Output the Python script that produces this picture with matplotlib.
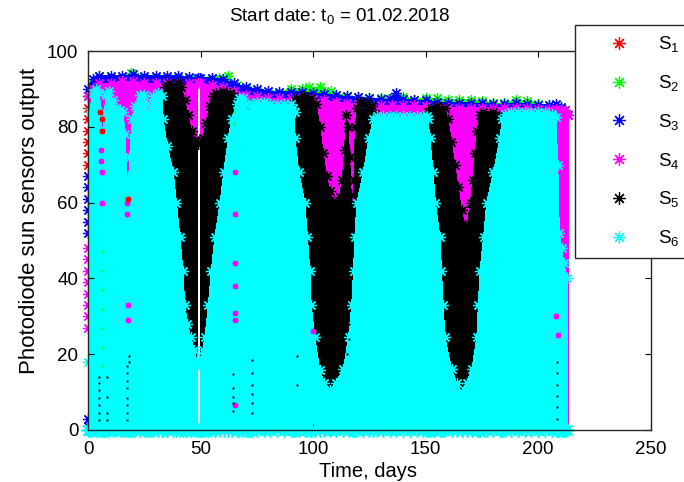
import numpy as np
import matplotlib
matplotlib.use("Agg")
import matplotlib.pyplot as plt
from matplotlib.lines import Line2D

plt.rcParams['font.family'] = ['Liberation Sans', 'DejaVu Sans']
plt.rcParams['mathtext.fontset'] = 'custom'
plt.rcParams['mathtext.rm'] = 'Liberation Sans'
plt.rcParams['mathtext.it'] = 'Liberation Sans:italic'

nan = np.nan

# ---------------- data (envelopes) ----------------
series_names = ['S1', 'S2', 'S3', 'S4', 'S5', 'S6']
series_labels = [r'$\mathrm{S}_{1}$', r'$\mathrm{S}_{2}$', r'$\mathrm{S}_{3}$',
                 r'$\mathrm{S}_{4}$', r'$\mathrm{S}_{5}$', r'$\mathrm{S}_{6}$']
series_colors = ['#ff0000', '#00ff00', '#0000ff', '#ff00ff', '#000000', '#00ffff']

# S2 (green) upper envelope
s2_day = [0, 2, 5, 10, 15, 19, 22, 25, 30, 35, 40, 45, 48.8, 49.3, 49.8, 55, 58, 62, 66, 70, 75, 80, 85, 90,
          95, 98, 103, 108, 115, 120, 125, 130, 135, 140, 145, 150, 155, 160, 165, 170, 175, 180, 185, 190,
          195, 200, 205, 210, 213]
s2_top = [88, 91.5, 93.5, 93, 93, 94.3, 93, 93, 93, 93, 93, 92.5, 92.5, nan, 92.5, 92.5, 93, 93.3, 91, 90,
          89.5, 89, 89, 90, 90, 90.5, 90.5, 89.5, 88, 87.8, 87.6, 87.5, 87.5, 87.8, 87.2, 87.5, 87.5, 87,
          87.2, 87, 86.8, 86.2, 86.2, 87, 86.8, 86, 85.8, 85, 83.5]

# S3 (blue) upper envelope
s3_day = [0, 2, 5, 10, 15, 20, 25, 30, 35, 40, 45, 48.8, 49.3, 49.8, 55, 60, 65, 70, 75, 80, 85, 90,
          95, 100, 105, 110, 115, 120, 125, 130, 134, 137, 140, 145, 150, 155, 160, 165, 170, 175, 180,
          185, 190, 195, 200, 205, 208, 210, 212, 213.5]
s3_top = [90, 92.5, 93.5, 93.5, 93.5, 93.8, 93.5, 93.5, 93.5, 93.5, 93.2, 93, nan, 93, 93, 92.5, 91.5, 90.5,
          90, 89.5, 89.3, 89.3, 89.3, 89, 88.7, 88.3, 88, 87.8, 87.5, 87.3, 87.3, 89, 87.3, 87, 87, 86.5,
          86.3, 86.3, 86.3, 86.2, 86, 86, 86.3, 86, 85.8, 85.8, 86, 85.3, 84.5, 83]

# S4 (magenta) upper envelope
s4_day = [0, 2, 5, 10, 15, 20, 25, 30, 35, 40, 45, 48.8, 49.3, 49.8, 55, 60, 65, 70, 75, 80, 85, 90,
          95, 100, 105, 110, 115, 120, 125, 130, 135, 140, 145, 150, 155, 160, 165, 170, 175, 180,
          185, 190, 195, 200, 205, 208, 210, 212, 213.5]
s4_top = [88, 90, 91.5, 91.5, 92, 92, 91.5, 91.5, 91.5, 91.5, 91.5, 91.5, nan, 91.5, 91, 90.5, 89.5, 88.5,
          88, 87.5, 87.5, 87.5, 87.5, 87.3, 87, 86.5, 86.3, 86, 85.8, 85.7, 85.7, 85.7, 85.7, 85.5, 85.2,
          85, 85, 85, 85, 85, 85, 85, 85, 84.8, 84.8, 84.8, 84.5, 84.5, 83]

# S5 (black) upper envelope, three eclipse seasons
s5_day = [33, 34, 36, 40, 41.5, 43, 44.5, 46, 47.5, 48.8, 49.3, 49.8, 51, 52.5, 54, 55.5, 57, 60, 63, 65, 67, 68,
          91, 92, 93, 96, 99, 101.5, 103, 104.5, 106, 107.5, 109, 110.3, 111.8, 113, 114, 114.8, 115.6, 116.3,
          117, 117.6, 118.2, 118.8, 119.5, 121, 124, 126, 127.5, 128.5,
          150, 151, 152.5, 155, 158.5, 160, 161.5, 163, 164.5, 166, 167.5, 168.5, 170, 171, 172, 173, 174,
          175.5, 180, 182.5, 184, 185.5]
s5_top = [86, 90.5, 91.5, 91.5, 90.5, 87, 83, 79, 76.5, 75.5, nan, 75.5, 77, 81, 85.5, 88, 89, 89.5, 89, 88, 86, nan,
          85, 87, 87.5, 88, 87.5, 86, 80, 73, 67, 63, 60.5, 59, 61.5, 66, 74, 83, 80, 72,
          62, 58, 66, 80, 85, 86.5, 86.5, 85.5, 83.5, nan,
          82.5, 84, 85, 85.5, 85, 82, 76, 70, 64, 58, 54, 54, 60, 66, 73, 79, 83,
          84, 84, 83, 82, 81]

# S6 (cyan) upper envelope
s6_day = [0, 0.8, 2, 3.5, 5, 5.8, 6.4, 7, 8, 9.5, 11, 12.5, 14, 15.5, 16.6, 17.3, 17.8, 18.5, 19.5, 21, 23, 25,
          26.3, 27, 27.8, 29, 31, 33,
          33.4, 35.2, 37.9, 39.3, 40.8, 42.2, 43.0, 44.2, 45.7, 47.3, 48.3, 48.8, 49.3, 49.8, 50.3, 50.9, 52.0,
          53.5, 54.8, 56.4, 58.7, 60.3, 62.4, 63.8, 66.1, 67.3,
          69, 70.3, 71, 71.8, 73, 75, 78, 81, 84, 87, 90, 91.2,
          91.8, 92.0, 93.7, 96.4, 97.5, 98.6, 99.2, 100.8, 103.0, 105, 107.5, 110, 113.5, 115.8, 117.2, 118.0,
          118.6, 119.5, 122.4, 124.8, 126.8, 128.3,
          131, 134, 137, 140, 143, 146, 149, 150.6,
          151.2, 151.9, 153.4, 154.4, 156.4, 157.1, 157.9, 158.6, 161.6, 163.8, 166, 168.3, 170.6, 172.8,
          173.5, 174.2, 175.8, 177.2, 180.2, 183.1, 184.1, 185.3,
          188, 191, 194, 197, 200, 203, 206, 208, 208.8, 209.5, 210.5, 211.5, 213]
s6_top = [18, 84, 89, 90, 89, 84, 78, 82, 88.5, 89.5, 87, 85, 84.5, 84, 78, 66, 63, 72, 82, 85.5, 88.5, 88.5,
          86, 82, 85, 88, 89, 88,
          82, 75, 68, 60, 51, 42, 33, 28, 24.5, 21, 18.5, 17.5, nan, 17.5, 19, 21, 24.5,
          33, 42, 51, 60, 68, 77, 82, 86, 87.5,
          87.5, 86, 83, 84, 86, 86.5, 86.5, 86, 86, 86, 86, 85,
          84, 77, 68, 60, 51, 42, 33, 24.5, 15.8, 12.5, 10.5, 12.5, 16, 24.5, 33, 42,
          51, 60, 68, 77, 82, 82.8,
          82.8, 82.8, 82.8, 82.8, 82.8, 82.8, 82.8, 82.8,
          82, 77, 68, 60, 51, 42, 33, 24.5, 16, 12.5, 10, 12.5, 16, 24.5,
          33, 42, 51, 60, 68, 77, 82, 83.5,
          83.8, 83.8, 83.8, 83.8, 83.8, 83.8, 83.5, 82.5, 70, 52, 48, 44, 40]

floor_value = 0.0

# single points visible at the very left edge (day 0)
edge_red_val = [88, 85, 82, 79, 76, 73, 70]
edge_blue_val = [67, 64, 61, 58, 55, 52, 3, 1]
edge_magenta_val = [48, 45, 42, 39, 36, 33, 30, 27]

# isolated points showing through the cyan area
mag_pt_day = [5.8, 5.8, 6.2, 6.2, 17.5, 17.5, 17.8, 17.8, 65.5, 65.5, 65.5, 65.5, 65.5, 65.5, 65.5, 100, 208, 209]
mag_pt_val = [74, 71, 68, 60, 60, 57, 33, 29, 68, 57, 44, 38, 31, 29, 6.6, 26, 30, 25]
grn_pt_day = [6, 6, 6, 6, 6, 6, 6, 65, 65]
grn_pt_val = [47, 42, 37, 32, 27, 22, 17, 84, 81]
red_pt_day = [5.5, 6, 6.3, 17.6]
red_pt_val = [84, 82, 79, 61]
blk_dot_day = [5, 5, 5, 5, 5, 5, 5, 8.3, 8.3, 8.3, 8.3, 17.5, 17.5, 17.5, 17.5, 17.5, 17.5, 17.5, 17.5, 18, 18,
               64.5, 64.5, 64.5, 64.5, 64.5, 73, 73, 73, 73, 73, 73, 208.5, 208.5, 208.5, 208.5, 208.5, 208.5,
               93, 93, 115, 116, 116]
blk_dot_val = [2.6, 4.5, 6.5, 8.5, 10.5, 12.5, 14, 2.6, 4.5, 8.7, 14, 2.6, 4.5, 6.5, 8.5, 11, 13, 15, 17, 18, 19.5,
               4.9, 7, 8.8, 11, 14.9, 4.6, 7, 9.5, 12, 15, 18.5, 3, 6, 9, 12, 15, 18,
               19.5, 12, 20, 24, 28]

x_ticks = [0, 50, 100, 150, 200, 250]
y_ticks = [0, 20, 40, 60, 80, 100]

# ---------------- figure ----------------
W, H = 684, 482
fig = plt.figure(figsize=(W / 100, H / 100), dpi=100)
ax = fig.add_axes([88 / W, (H - 430) / H, (650.5 - 88) / W, (430 - 51) / H])

AST = (8, 2, 0)   # 8-spoke asterisk like MATLAB '*'
MS = 8
MS_FLOOR = 10
MEW = 0.9


def draw_series(i, day, top, lower_markers=False):
    c = series_colors[i]
    d = np.asarray(day, float)
    t = np.asarray(top, float)
    z = 1.0 + 0.1 * i
    ax.fill_between(d, floor_value, t, facecolor=c, edgecolor='none', linewidth=0,
                    antialiased=False, zorder=z)
    ax.plot(d, t, ls='none', marker=AST, ms=MS, mec=c, mew=MEW, clip_on=False, zorder=z + 0.05)
    if lower_markers:
        lo = np.where(np.isnan(t), np.nan, floor_value)
        ax.plot(d, lo, ls='none', marker=AST, ms=MS_FLOOR, mec=c, mew=1.2, clip_on=False, zorder=z + 0.05)


ax.plot([0] * len(edge_red_val), edge_red_val, ls='none', marker=AST, ms=MS, mec=series_colors[0],
        mew=MEW, clip_on=False, zorder=1.02)
draw_series(1, s2_day, s2_top)
draw_series(2, s3_day, s3_top)
ax.plot([0] * len(edge_blue_val), edge_blue_val, ls='none', marker=AST, ms=MS, mec=series_colors[2],
        mew=MEW, clip_on=False, zorder=1.27)
draw_series(3, s4_day, s4_top)
ax.plot([0] * len(edge_magenta_val), edge_magenta_val, ls='none', marker=AST, ms=MS, mec=series_colors[3],
        mew=MEW, clip_on=False, zorder=1.37)
draw_series(4, s5_day, s5_top)
draw_series(5, s6_day, s6_top, lower_markers=True)

ax.plot(mag_pt_day, mag_pt_val, ls='none', marker=AST, ms=4, mec=series_colors[3], mew=MEW, zorder=2.0)
ax.plot(grn_pt_day, grn_pt_val, ls='none', marker='s', ms=1.5, mfc=series_colors[1], mec='none', zorder=2.0)
ax.plot(red_pt_day, red_pt_val, ls='none', marker=AST, ms=4, mec=series_colors[0], mew=MEW, zorder=2.0)
ax.plot(blk_dot_day, blk_dot_val, ls='none', marker='s', ms=1.6, mfc='black', mec='none', zorder=2.0)

ax.set_xlim(0, 250)
ax.set_ylim(0, 100)
ax.set_xticks(x_ticks)
ax.set_yticks(y_ticks)
ax.tick_params(direction='in', top=True, right=True, length=4, width=0.8, labelsize=13.5, colors='black')
ax.tick_params(axis='x', pad=8)
ax.tick_params(axis='y', pad=7)
for s in ax.spines.values():
    s.set_linewidth(1.0)
    s.set_color('#262626')

fig.text(340 / W, 1 - 21 / H, r'Start date: $\mathrm{t}_{0}$ = 01.02.2018', ha='center', va='baseline',
         fontsize=13.5)
fig.text(368 / W, 1 - 477 / H, 'Time, days', ha='center', va='baseline', fontsize=14.5)
fig.text(30 / W, 1 - 221 / H, 'Photodiode sun sensors output', ha='center', va='center', rotation=90,
         fontsize=16)

handles = [Line2D([], [], ls='none', marker=AST, ms=9, mec=c, mew=MEW) for c in series_colors]
leg = fig.legend(handles, series_labels, loc='upper left', bbox_to_anchor=(575 / W, 1 - 25 / H),
                 bbox_transform=fig.transFigure, borderaxespad=0, fontsize=13.5, frameon=True,
                 fancybox=False, shadow=False, framealpha=1, edgecolor='#262626', borderpad=0.5,
                 handlelength=3.7, handletextpad=0.2, labelspacing=1.0)
leg.get_frame().set_linewidth(1.0)

fig.savefig('out.png', dpi=100)
